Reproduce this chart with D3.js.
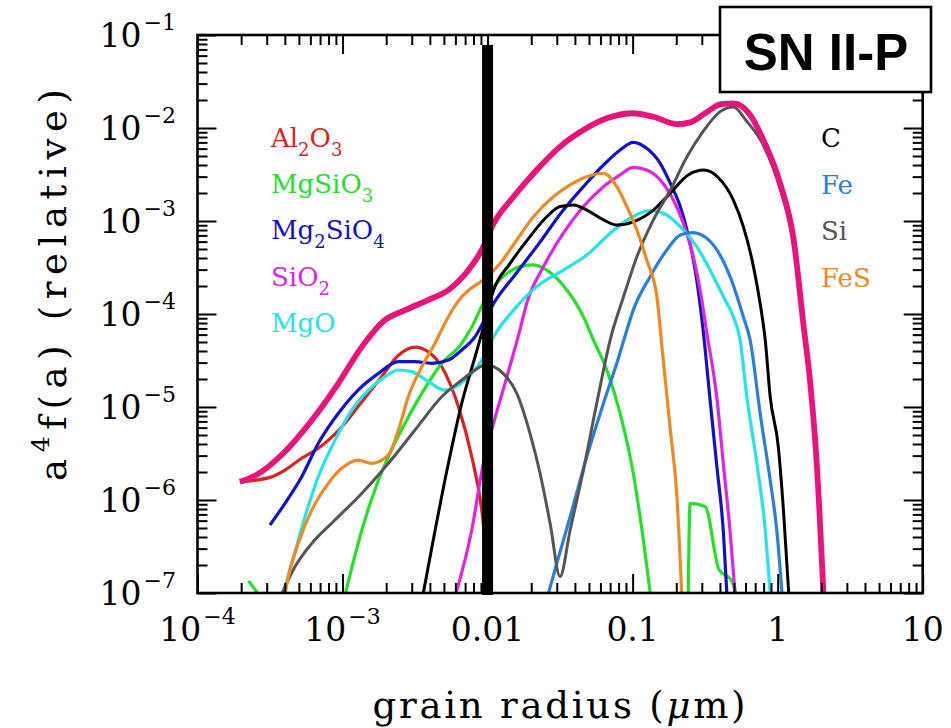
<!DOCTYPE html>
<html><head><meta charset="utf-8">
<script src="https://cdn.jsdelivr.net/npm/d3@7/dist/d3.min.js"></script>
<style>body{margin:0;background:#fff;}svg{display:block;}</style>
</head><body>
<svg id="chart" width="951" height="728"></svg>
<script>
// ---------------- data ----------------
const xTickValues = [1e-4, 1e-3, 1e-2, 1e-1, 1, 10];
const xTickLabels = [["10", "−4"], ["10", "−3"], ["0.01", ""], ["0.1", ""], ["1", ""], ["10", ""]];
const yTickValues = [1e-7, 1e-6, 1e-5, 1e-4, 1e-3, 1e-2, 1e-1];
const yTickLabels = [["10", "−7"], ["10", "−6"], ["10", "−5"], ["10", "−4"], ["10", "−3"], ["10", "−2"], ["10", "−1"]];

const xTitle = "grain radius (";
const yTitle = ["a", "4", "f(a) (relative)"];
const panelLabel = "SN II-P";
const cutRadius = 0.01;      // thick vertical line position (µm)
const cutTop = 0.078;        // top of the thick vertical line

// series: [radius (µm), a^4 f(a)]
const total = [[1.96e-4,1.57e-6],[2.49e-4,1.82e-6],[3.91e-4,3.18e-6],[6.14e-4,7.2e-6],[9.36e-4,1.8e-5],[1.38e-3,4.6e-5],[1.96e-3,8.6e-5],[2.70e-3,1.10e-4],[3.91e-3,1.42e-4],[5.37e-3,1.81e-4],[7.38e-3,2.97e-4],[9.12e-3,4.88e-4],[1.10e-2,9.4e-4],[1.51e-2,1.82e-3],[2.18e-2,3.53e-3],[3.16e-2,6.3e-3],[4.58e-2,9.5e-3],[6.64e-2,1.27e-2],[0.101,1.44e-2],[0.139,1.32e-2],[0.202,1.10e-2],[0.249,1.15e-2],[0.316,1.44e-2],[0.407,1.81e-2],[0.495,1.84e-2],[0.646,1.38e-2],[0.798,7.4e-3],[1.04,2.54e-3],[1.29,6.25e-4],[1.51,7.4e-5],[1.67,1.95e-5],[1.86,2.48e-6],[2.08,8e-8]];
const al2o3 = [[1.96e-4,1.57e-6],[3.16e-4,1.75e-6],[4.01e-4,2.10e-6],[5.23e-4,2.81e-6],[6.81e-4,3.6e-6],[9.87e-4,6.1e-6],[1.28e-3,1.01e-5],[1.86e-3,2.12e-5],[2.43e-3,3.6e-5],[3.16e-3,4.4e-5],[3.91e-3,3.9e-5],[4.83e-3,2.71e-5],[6.29e-3,1.01e-5],[7.78e-3,2.92e-6],[9.12e-3,7.8e-7],[1.04e-2,1e-7],[1.07e-2,7e-8]];
const mgsio3 = [[2.25e-4,1.35e-7],[2.8e-4,8.5e-8],null,[1.02e-3,8.4e-8],[1.36e-3,4.76e-7],[1.67e-3,1.28e-6],[2.07e-3,2.92e-6],[2.70e-3,6.7e-6],[3.52e-3,1.40e-5],[4.83e-3,2.95e-5],[6.64e-3,4.84e-5],[7.57e-3,6.7e-5],[9.87e-3,1.53e-4],[1.28e-2,2.52e-4],[1.67e-2,3.23e-4],[2.02e-2,3.37e-4],[2.56e-2,2.97e-4],[3.52e-2,1.81e-4],[4.58e-2,9.35e-5],[5.37e-2,5.25e-5],[6.64e-2,2.5e-5],[8.2e-2,8.55e-6],[0.101,1.94e-6],[0.116,4.76e-7],[0.134,8.4e-8],null,[0.2415,8.4e-8],[0.249,9.2e-7],[0.316,8.5e-7],[0.395,1.77e-7],[0.478,1.38e-7],[0.53,8.5e-8]];
const mg2sio4 = [[3.16e-4,5.38e-7],[4.01e-4,9.2e-7],[5.23e-4,1.78e-6],[6.81e-4,4.07e-6],[9.36e-4,8.55e-6],[1.28e-3,1.52e-5],[1.77e-3,2.30e-5],[2.43e-3,3.07e-5],[3.16e-3,3.07e-5],[4.12e-3,2.95e-5],[5.37e-3,3.2e-5],[6.64e-3,4.1e-5],[8.2e-3,5.7e-5],[9.12e-3,7.6e-5],[1.10e-2,1.30e-4],[1.51e-2,2.52e-4],[2.18e-2,5.3e-4],[3.33e-2,1.31e-3],[4.58e-2,2.34e-3],[6.30e-2,4.0e-3],[8.2e-2,5.8e-3],[0.101,7.0e-3],[0.125,6.05e-3],[0.155,4.17e-3],[0.182,2.54e-3],[0.213,1.43e-3],[0.237,8.0e-4],[0.277,2.3e-4],[0.308,6.2e-5],[0.342,1.19e-5],[0.381,2.28e-6],[0.423,4.4e-7],[0.449,8.4e-8]];
const sio2 = [[5.87e-3,8.4e-8],[7.78e-3,4.76e-7],[9.35e-3,2.48e-6],[1.10e-2,6.7e-6],[1.36e-2,2.12e-5],[1.67e-2,6.7e-5],[1.86e-2,1.30e-4],[2.43e-2,3.23e-4],[3.33e-2,7.4e-4],[4.58e-2,1.43e-3],[6.30e-2,2.34e-3],[8.2e-2,3.13e-3],[0.101,3.78e-3],[0.125,3.53e-3],[0.155,2.76e-3],[0.191,1.68e-3],[0.224,9.4e-4],[0.262,4.13e-4],[0.292,1.81e-4],[0.325,6.2e-5],[0.381,1.25e-5],[0.423,2.38e-6],[0.470,4.56e-7],[0.513,8.4e-8]];
const mgo = [[3.79e-4,8.4e-8],[4.47e-4,2.08e-7],[5.51e-4,6.6e-7],[6.81e-4,1.78e-6],[8.87e-4,4.4e-6],[1.16e-3,9.3e-6],[1.51e-3,1.52e-5],[1.96e-3,2.12e-5],[2.43e-3,2.50e-5],[3.0e-3,2.40e-5],[3.91e-3,1.87e-5],[5.09e-3,1.52e-5],[6.29e-3,1.72e-5],[7.78e-3,2.30e-5],[9.12e-3,3.2e-5],[1.10e-2,5.7e-5],[1.51e-2,1.10e-4],[2.18e-2,1.97e-4],[3.33e-2,2.97e-4],[4.83e-2,4.3e-4],[7.0e-2,7.4e-4],[9.6e-2,1.07e-3],[0.132,1.29e-3],[0.163,1.21e-3],[0.213,8.7e-4],[0.277,5.3e-4],[0.361,2.52e-4],[0.434,1.42e-4],[0.495,9.35e-5],[0.551,5.25e-5],[0.613,1.29e-5],[0.719,2.48e-6],[0.821,4.76e-7],[0.895,8.4e-8]];
const carbon = [[3.53e-3,8.4e-8],[4.35e-3,4.76e-7],[5.37e-3,2.48e-6],[6.64e-3,1.10e-5],[8.2e-3,3.47e-5],[9.12e-3,6.2e-5],[1.10e-2,1.81e-4],[1.43e-2,3.5e-4],[1.96e-2,6.8e-4],[2.56e-2,1.11e-3],[3.16e-2,1.43e-3],[3.91e-2,1.49e-3],[4.83e-2,1.31e-3],[6.30e-2,1.03e-3],[7.78e-2,9.05e-4],[0.101,9.8e-4],[0.139,1.31e-3],[0.182,1.99e-3],[0.2415,3.13e-3],[0.311,3.53e-3],[0.389,2.94e-3],[0.495,1.68e-3],[0.580,8.7e-4],[0.681,3.23e-4],[0.757,1.30e-4],[0.821,5.25e-5],[0.888,1.29e-5],[1.01,3.74e-6],[1.10,7.2e-7],[1.20,8.4e-8]];
const iron = [[2.55e-2,8.4e-8],[3.0e-2,2.08e-7],[3.71e-2,6.6e-7],[4.83e-2,2.92e-6],[6.30e-2,1.10e-5],[7.78e-2,2.95e-5],[9.12e-2,6.7e-5],[0.101,1.10e-4],[0.132,2.52e-4],[0.172,4.88e-4],[0.213,7.06e-4],[0.257,7.5e-4],[0.316,6.73e-4],[0.381,4.88e-4],[0.470,2.52e-4],[0.580,9.35e-5],[0.646,5.25e-5],[0.757,8.55e-6],[0.888,1.64e-6],[0.986,4.76e-7],[1.08,8.4e-8]];
const silicon = [[3.65e-4,8.4e-8],[4.70e-4,1.92e-7],[6.14e-4,3.42e-7],[8.87e-4,6.1e-7],[1.36e-3,1.18e-6],[2.07e-3,2.48e-6],[3.16e-3,5.66e-6],[4.83e-3,1.29e-5],[6.64e-3,1.95e-5],[8.2e-3,2.50e-5],[9.6e-3,2.83e-5],[1.10e-2,2.72e-5],[1.28e-2,2.30e-5],[1.59e-2,1.40e-5],[1.96e-2,5.2e-6],[2.30e-2,1.94e-6],[2.70e-2,5.6e-7],[3.16e-2,1.50e-7],[3.71e-2,4.76e-7],[4.58e-2,2.10e-6],[5.66e-2,1.10e-5],[7.0e-2,5.25e-5],[8.65e-2,1.53e-4],[0.107,4.13e-4],[0.139,1.03e-3],[0.182,2.15e-3],[0.237,4.9e-3],[0.308,9.3e-3],[0.401,1.50e-2],[0.495,1.68e-2],[0.607,1.2e-2],[0.798,6.5e-3],[1.04,2.2e-3],[1.29,5.4e-4],[1.51,6.4e-5],[1.67,1.7e-5],[1.86,2.1e-6],[2.06,8e-8]];
const fes = [[3.95e-4,8.4e-8],[4.23e-4,1.50e-7],[4.95e-4,3.42e-7],[6.14e-4,7.8e-7],[7.98e-4,1.51e-6],[9.87e-4,2.19e-6],[1.28e-3,2.69e-6],[1.59e-3,2.48e-6],[2.07e-3,3.05e-6],[2.43e-3,5.66e-6],[2.84e-3,1.29e-5],[3.52e-3,2.71e-5],[4.35e-3,4.88e-5],[5.37e-3,9.35e-5],[6.64e-3,1.53e-4],[7.57e-3,1.86e-4],[9.35e-3,2.32e-4],[1.22e-2,3.5e-4],[1.59e-2,6.25e-4],[2.07e-2,1.11e-3],[2.84e-2,1.82e-3],[3.71e-2,2.44e-3],[4.83e-2,2.99e-3],[6.30e-2,3.26e-3],[7.78e-2,2.34e-3],[9.12e-2,1.43e-3],[0.107,8.0e-4],[0.125,3.81e-4],[0.147,1.53e-4],[0.160,4.1e-5],[0.182,5.66e-6],[0.202,1.08e-6],[0.219,8.4e-8]];

const leftLegend = [
  {name: "Al2O3", parts: [["Al",0],["2",1],["O",0],["3",1]], color: "#da2320"},
  {name: "MgSiO3", parts: [["MgSiO",0],["3",1]], color: "#26e02a"},
  {name: "Mg2SiO4", parts: [["Mg",0],["2",1],["SiO",0],["4",1]], color: "#1212c6"},
  {name: "SiO2", parts: [["SiO",0],["2",1]], color: "#e024e0"},
  {name: "MgO", parts: [["MgO",0]], color: "#25e3ea"}
];
const rightLegend = [
  {name: "C", parts: [["C",0]], color: "#000000"},
  {name: "Fe", parts: [["Fe",0]], color: "#2a80d8"},
  {name: "Si", parts: [["Si",0]], color: "#555555"},
  {name: "FeS", parts: [["FeS",0]], color: "#ee8a26"}
];
const totalColor = "#e8137b";

const series = [
  {data: al2o3, color: "#da2320", w: 3.2},
  {data: mgsio3, color: "#26e02a", w: 3.2},
  {data: mg2sio4, color: "#1212c6", w: 3.2},
  {data: sio2, color: "#e024e0", w: 3.2},
  {data: mgo, color: "#25e3ea", w: 3.2},
  {data: carbon, color: "#000000", w: 3.0},
  {data: iron, color: "#2a80d8", w: 3.2},
  {data: silicon, color: "#555555", w: 3.0},
  {data: fes, color: "#ee8a26", w: 3.2},
  {data: total, color: totalColor, w: 5.8}
];

// ---------------- layout ----------------
const svg = d3.select("#chart");
const L = 197.5, R = 922.7, T = 35, B = 593;
const x = d3.scaleLog().domain([1e-4, 10]).range([L, R]);
const y = d3.scaleLog().domain([1e-7, 1e-1]).range([B, T]);

const minorX = [], minorY = [];
for (let d = -4; d <= 0; d++) for (let k = 2; k <= 9; k++) minorX.push(k * Math.pow(10, d));
for (let d = -7; d <= -2; d++) for (let k = 2; k <= 9; k++) minorY.push(k * Math.pow(10, d));

svg.append("rect").attr("width", 951).attr("height", 728).attr("fill", "#fff");

svg.append("defs").append("clipPath").attr("id", "plotclip")
  .append("rect").attr("x", L).attr("y", T).attr("width", R - L).attr("height", B - T);

const line = d3.line()
  .defined(d => d != null)
  .x(d => x(d[0])).y(d => y(d[1]))
  .curve(d3.curveMonotoneX);
const gLines = svg.append("g").attr("clip-path", "url(#plotclip)");
series.forEach(s => {
  gLines.append("path").attr("d", line(s.data))
    .attr("fill", "none").attr("stroke", s.color).attr("stroke-width", s.w)
    .attr("stroke-linejoin", "round").attr("stroke-linecap", "butt");
});

svg.append("rect")
  .attr("x", x(cutRadius) - 5.5).attr("width", 11)
  .attr("y", y(cutTop)).attr("height", B + 2 - y(cutTop))
  .attr("fill", "#000");

function styleAxis(g) {
  g.select(".domain").remove();
  g.selectAll(".tick line").attr("stroke", "#000").attr("stroke-width", 2);
  g.selectAll(".tick text").remove();
}
const major = 19, minor = 10;
svg.append("g").attr("transform", `translate(0,${B})`).call(d3.axisBottom(x).tickValues(xTickValues).tickSize(-major).tickFormat("")).call(styleAxis);
svg.append("g").attr("transform", `translate(0,${B})`).call(d3.axisBottom(x).tickValues(minorX).tickSize(-minor).tickFormat("")).call(styleAxis);
svg.append("g").attr("transform", `translate(0,${T})`).call(d3.axisTop(x).tickValues(xTickValues).tickSize(-major).tickFormat("")).call(styleAxis);
svg.append("g").attr("transform", `translate(0,${T})`).call(d3.axisTop(x).tickValues(minorX).tickSize(-minor).tickFormat("")).call(styleAxis);
svg.append("g").attr("transform", `translate(${L},0)`).call(d3.axisLeft(y).tickValues(yTickValues).tickSize(-major).tickFormat("")).call(styleAxis);
svg.append("g").attr("transform", `translate(${L},0)`).call(d3.axisLeft(y).tickValues(minorY).tickSize(-minor).tickFormat("")).call(styleAxis);
svg.append("g").attr("transform", `translate(${R},0)`).call(d3.axisRight(y).tickValues(yTickValues).tickSize(-major).tickFormat("")).call(styleAxis);
svg.append("g").attr("transform", `translate(${R},0)`).call(d3.axisRight(y).tickValues(minorY).tickSize(-minor).tickFormat("")).call(styleAxis);

svg.append("rect").attr("x", L).attr("y", T).attr("width", R - L).attr("height", B - T)
  .attr("fill", "none").attr("stroke", "#000").attr("stroke-width", 2.6);

const tickFont = "'DejaVu Serif', serif";
yTickValues.forEach((v, i) => {
  const t = svg.append("text").attr("x", 176).attr("y", y(v) + 12)
    .attr("text-anchor", "end").attr("font-family", tickFont).attr("font-size", 33).attr("fill", "#000");
  t.append("tspan").text(yTickLabels[i][0]);
  t.append("tspan").attr("dy", -17).attr("dx", 2).attr("font-size", 22).text(yTickLabels[i][1]);
});
xTickValues.forEach((v, i) => {
  const t = svg.append("text").attr("x", x(v)).attr("y", 641)
    .attr("text-anchor", "middle").attr("font-family", tickFont).attr("font-size", 33).attr("fill", "#000");
  t.append("tspan").text(xTickLabels[i][0]);
  if (xTickLabels[i][1]) t.append("tspan").attr("dy", -17).attr("dx", 2).attr("font-size", 22).text(xTickLabels[i][1]);
});

// axis titles
const titleFont = "'DejaVu Serif', serif";
const xt = svg.append("text").attr("x", 559).attr("y", 718).attr("text-anchor", "middle")
  .attr("font-family", titleFont).attr("font-size", 37).attr("fill", "#000")
  .attr("textLength", 373).attr("lengthAdjust", "spacing");
xt.append("tspan").text(xTitle);
xt.append("tspan").attr("font-style", "italic").text("μ");
xt.append("tspan").text("m)");

const yt = svg.append("text").attr("transform", "translate(66,285) rotate(-90)").attr("text-anchor", "middle")
  .attr("font-family", titleFont).attr("font-size", 37).attr("fill", "#000")
  .attr("textLength", 392).attr("lengthAdjust", "spacing");
yt.append("tspan").text(yTitle[0]);
yt.append("tspan").attr("dy", -17).attr("font-size", 25).text(yTitle[1]);
yt.append("tspan").attr("dy", 17).text(yTitle[2]);

// legends
const legFont = "'DejaVu Serif', serif";
function drawLegend(items, x0, y0, dy) {
  items.forEach((it, i) => {
    const t = svg.append("text").attr("x", x0).attr("y", y0 + i * dy)
      .attr("font-family", legFont).attr("font-size", 26).attr("fill", it.color);
    let sub = false;
    it.parts.forEach(p => {
      const ts = t.append("tspan").text(p[0]);
      if (p[1] && !sub) { ts.attr("dy", 9).attr("font-size", 18); sub = true; }
      else if (!p[1] && sub) { ts.attr("dy", -9); sub = false; }
    });
  });
}
drawLegend(leftLegend, 271, 147, 46.2);
drawLegend(rightLegend, 821, 147, 46.5);

// panel label
svg.append("rect").attr("x", 720).attr("y", 7).attr("width", 211).attr("height", 85)
  .attr("fill", "#fff").attr("stroke", "#000").attr("stroke-width", 2.6);
svg.append("text").attr("x", 826).attr("y", 70).attr("text-anchor", "middle")
  .attr("font-family", "'Liberation Sans', Arial, sans-serif").attr("font-weight", "bold")
  .attr("font-size", 51).attr("fill", "#000").text(panelLabel);
</script>
</body></html>
